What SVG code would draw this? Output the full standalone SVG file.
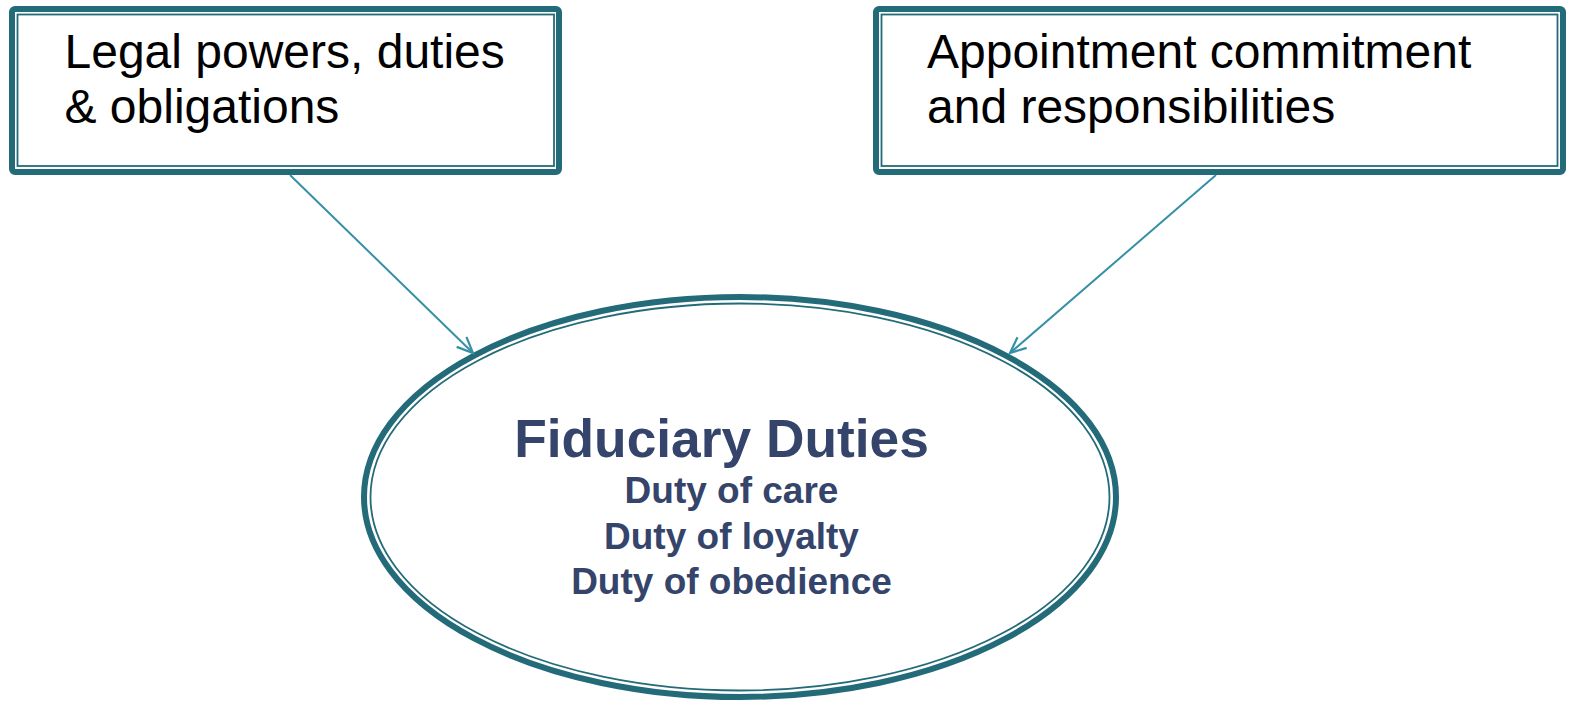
<svg xmlns="http://www.w3.org/2000/svg" width="1573" height="703" viewBox="0 0 1573 703">
<style>
.outer{fill:none;stroke:#246b7a;stroke-width:6}
.inner{fill:none;stroke:#246b7a;stroke-width:1.8}
.box{font-family:"Liberation Sans",Arial,sans-serif;font-size:48px;fill:#000}
.title{font-family:"Liberation Sans",Arial,sans-serif;font-weight:bold;fill:#35446b;text-anchor:middle}
.conn{fill:none;stroke:#3590a6;stroke-width:2}
</style>
<defs>
<marker id="arr" viewBox="0 0 20 20" refX="18" refY="10" markerWidth="20" markerHeight="20" markerUnits="userSpaceOnUse" orient="auto">
<path d="M2,3 L18,10 L2,17" fill="none" stroke="#3590a6" stroke-width="2.2"/>
</marker>
</defs>
<rect width="1573" height="703" fill="#fff"/>
<g id="node-legal">
<rect class="outer" x="12" y="9" width="547" height="163" rx="3"/>
<rect class="inner" x="17.5" y="14.5" width="536.5" height="151.5"/>
<text class="box" x="64.5" y="68">Legal powers, duties</text>
<text class="box" x="64.5" y="123">&amp; obligations</text>
</g>
<g id="node-appointment">
<rect class="outer" x="876" y="9" width="687" height="163" rx="3"/>
<rect class="inner" x="881.5" y="14.5" width="676" height="151.5"/>
<text class="box" x="927" y="68">Appointment commitment</text>
<text class="box" x="927" y="123">and responsibilities</text>
</g>
<g id="node-fiduciary">
<ellipse class="outer" cx="740" cy="497" rx="376" ry="200"/>
<ellipse class="inner" cx="740" cy="497" rx="369.5" ry="193.5"/>
<text class="title" x="721.5" y="457" font-size="53.3">Fiduciary Duties</text>
<text class="title" x="731.5" y="503" font-size="37">Duty of care</text>
<text class="title" x="731.5" y="549" font-size="37">Duty of loyalty</text>
<text class="title" x="731.5" y="594" font-size="37">Duty of obedience</text>
</g>
<g id="connectors">
<line class="conn" x1="290" y1="175" x2="473" y2="353" marker-end="url(#arr)"/>
<line class="conn" x1="1216" y1="175" x2="1010" y2="353" marker-end="url(#arr)"/>
</g>
</svg>
